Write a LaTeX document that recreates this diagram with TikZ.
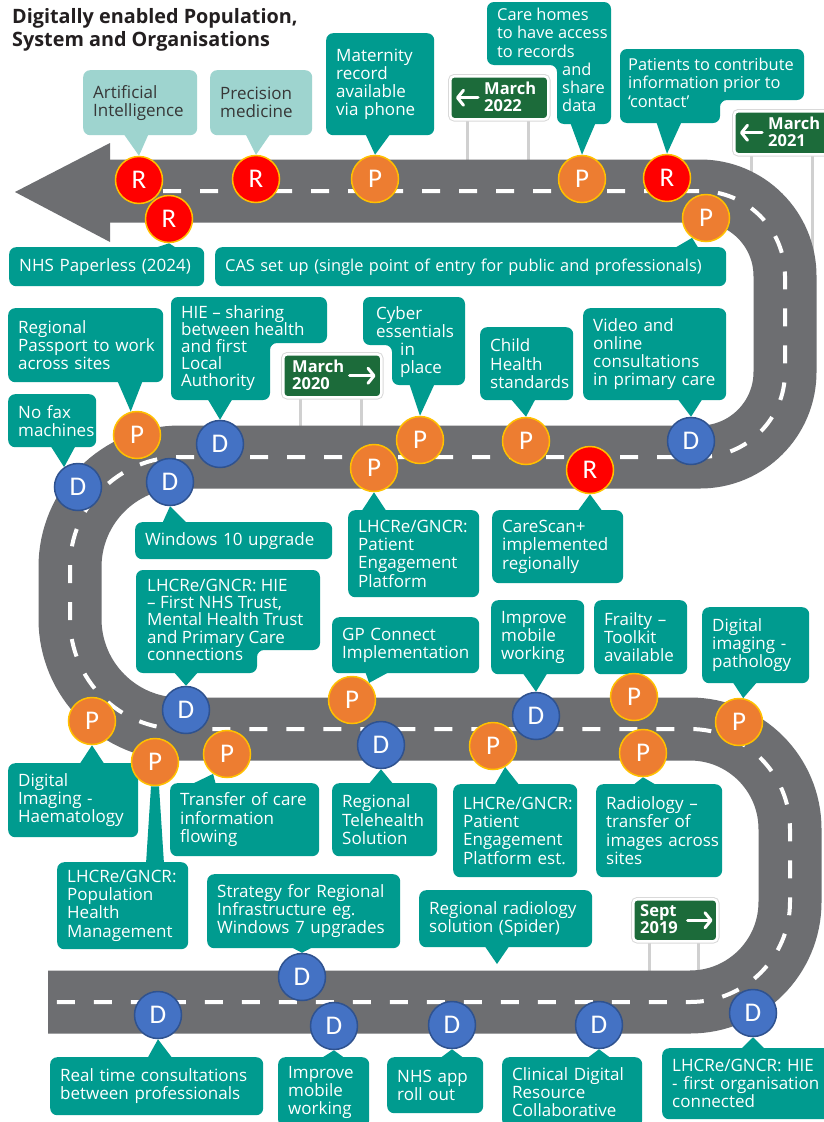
\documentclass[tikz,border=0pt]{standalone}
\usepackage{fontspec}
\setmainfont{Open Sans}
\newfontfamily\badgefont{Carlito}
\usetikzlibrary{arrows.meta}

\definecolor{calloutteal}{RGB}{0,155,143}
\definecolor{calloutpale}{RGB}{158,212,207}
\definecolor{paletext}{RGB}{55,55,55}
\definecolor{roadgrey}{RGB}{109,110,113}
\definecolor{signgreen}{RGB}{28,107,58}
\definecolor{postgrey}{RGB}{208,208,208}
\definecolor{rfill}{RGB}{255,0,0}
\definecolor{pfill}{RGB}{237,125,49}
\definecolor{dfill}{RGB}{68,114,196}
\definecolor{ringgold}{RGB}{255,192,0}
\definecolor{dring}{RGB}{47,82,143}
\definecolor{titleink}{RGB}{35,31,32}

\pgfdeclarelayer{roadlayer}
\pgfdeclarelayer{tiplayer}
\pgfsetlayers{roadlayer,tiplayer,main}

\newcommand\labelsize{\fontsize{17}{18.2}\selectfont}
\newcommand\tightsize{\fontsize{17}{17.2}\selectfont}
\newcommand\snugsize{\fontsize{16.4}{18.2}\selectfont}

\tikzset{
  callbox/.style={rectangle, rounded corners=7pt, fill=calloutteal, text=white,
    font=\labelsize, align=left, anchor=north west, inner xsep=10pt, inner ysep=2pt},
  palebox/.style={callbox, fill=calloutpale, text=paletext},
  callshape/.style={fill=calloutteal, rounded corners=7pt},
  calltext/.style={anchor=north west, inner sep=0pt, align=left, text=white, font=\labelsize},
  badge/.style={circle, minimum size=47pt, inner sep=0pt, line width=1.5pt, text=white,
    font=\badgefont\fontsize{27}{27}\selectfont},
  rbadge/.style={badge, fill=rfill, draw=ringgold},
  pbadge/.style={badge, fill=pfill, draw=ringgold},
  dbadge/.style={badge, fill=dfill, draw=dring},
  signplate/.style={rectangle, rounded corners=4pt, fill=signgreen, draw=white, line width=2.5pt,
    preaction={draw=black!15, line width=4.5pt}, anchor=north west, inner sep=0pt},
  signtext/.style={anchor=west, inner sep=0pt, align=left, text=white,
    font=\bfseries\fontsize{16.5}{16.5}\selectfont},
  signarrow/.style={draw=white, line width=3pt, line cap=round,
    -{Straight Barb[length=6pt,width=15pt,round]}},
  signpost/.style={draw=postgrey, line width=3pt},
  roadbase/.style={draw=roadgrey, line width=63pt},
  centreline/.style={draw=white, line width=4pt, dash pattern=on 18pt off 19pt, dash phase=21pt},
}

% rectangular callout: name, x1, y1, x2, y2, text
\newcommand\calloutbox[7][]{%
  \pgfmathsetmacro\cbw{#5-#3}%
  \pgfmathsetmacro\cbh{#6-#4}%
  \pgfmathsetmacro\cbt{#5-#3-20}%
  \node[callbox,minimum width=\cbw pt,minimum height=\cbh pt,text width=\cbt pt,#1] (#2) at (#3,#4) {#7};}

% callout pointer: tip, base centre x, base y
\newcommand\calltip[4][calloutteal]{\fill[#1] ({#3-13},#4) -- (#2) -- ({#3+13},#4) -- cycle;}

\begin{document}
\begin{tikzpicture}[x=1pt,y=-1pt]
\useasboundingbox (0,0) rectangle (824,1122);

\begin{pgfonlayer}{roadlayer}
  \fill[white] (0,0) rectangle (824,1122);
  % sign posts
  \draw[signpost] (467,100) -- (467,175);
  \draw[signpost] (528,100) -- (528,175);
  \draw[signpost] (751,140) -- (751,200);
  \draw[signpost] (812,140) -- (812,300);
  \draw[signpost] (300,380) -- (300,440);
  \draw[signpost] (361,380) -- (361,440);
  \draw[signpost] (649,925) -- (649,985);
  \draw[signpost] (698,925) -- (698,985);
  % the winding road with its centre line
  \draw[roadbase, postaction={centreline}] (110,191) -- (700,191)
    arc[start angle=90,end angle=0,radius=85pt] -- (785,372)
    arc[start angle=0,end angle=-90,radius=85pt] -- (180,457)
    arc[start angle=90,end angle=180,radius=110pt] -- (70,619)
    arc[start angle=180,end angle=270,radius=110pt] -- (690,729)
    arc[start angle=90,end angle=0,radius=100pt] -- (790,902)
    arc[start angle=0,end angle=-90,radius=100pt] -- (48,1002);
  \fill[roadgrey] (110,143) -- (15,192) -- (110,242) -- cycle;
  % road signs
  \node[signplate, minimum width=98pt, minimum height=43pt] (s22) at (449,75) {};
  \node[signtext] (t22) at (484,97) {March\\2022};
  \draw[signarrow] ([xshift=29pt]s22.west) -- ([xshift=7pt]s22.west);
  \node[signplate, minimum width=95pt, minimum height=43pt] (s21) at (733,110) {};
  \node[signtext] (t21) at (768,132) {March\\2021};
  \draw[signarrow] ([xshift=29pt]s21.west) -- ([xshift=7pt]s21.west);
  \node[signplate, minimum width=98pt, minimum height=43pt] (s20) at (282,353) {};
  \node[signtext] (t20) at (292,375) {March\\2020};
  \draw[signarrow] ([xshift=-33pt]s20.east) -- ([xshift=-7pt]s20.east);
  \node[signplate, minimum width=84pt, minimum height=42pt] (s19) at (632,898) {};
  \node[signtext] (t19) at (640,919) {Sept\\2019};
  \draw[signarrow] ([xshift=-31pt]s19.east) -- ([xshift=-6pt]s19.east);
\end{pgfonlayer}

% title
\node[anchor=north west, inner sep=0pt, align=left, text=titleink,
  font=\bfseries\fontsize{19.8}{23.5}\selectfont] (title) at (12,8)
  {Digitally enabled Population,\\System and Organisations};

% callouts along the top stretch
\calloutbox[palebox]{bAI}{83}{70}{197}{135}{Artificial\\Intelligence}
\calloutbox[palebox]{bPrec}{210}{70}{312}{135}{Precision\\medicine}
\calloutbox{bMat}{326}{33}{434}{135}{Maternity\\record\\available\\via~phone}
\fill[callshape] (487,2) -- (611,2) -- (611,124) -- (557,124) -- (557,65) -- (487,65) -- cycle;
\node[calltext, font=\snugsize] (tCare) at (497,8) {Care homes\\to have access\\to records\\\hspace*{65pt}and\\\hspace*{65pt}share\\\hspace*{65pt}data};
\fill[callshape] (620,49) -- (804,49) -- (804,100) -- (720,100) -- (720,123) -- (620,123) -- cycle;
\node[calltext, font=\snugsize] (tPat) at (628,58) {Patients to contribute\\information prior to\\‘contact’};
\calloutbox{bPaper}{9}{247}{204}{286}{NHS~Paperless~(2024)}
\calloutbox[font=\fontsize{16.4}{18}\selectfont]{bCAS}{215}{247}{726}{286}{CAS~set~up~(single~point~of~entry~for~public~and~professionals)}

% callouts around the second stretch
\calloutbox{bPass}{8}{308}{163}{382}{Regional\\Passport~to~work\\across~sites}
\calloutbox{bFax}{8}{394}{96}{447}{No~fax\\machines}
\fill[callshape] (171,297) -- (327,297) -- (327,343) -- (270,343) -- (270,400) -- (171,400) -- cycle;
\node[calltext, font=\tightsize] (tHIE) at (181,305) {HIE – sharing\\between health\\and first\\Local\\Authority};
\fill[callshape] (363,297) -- (465,297) -- (465,385) -- (392,385) -- (392,345) -- (363,345) -- cycle;
\node[calltext] (tCyber) at (376,306) {Cyber\\essentials\\\hspace*{24pt}in\\\hspace*{24pt}place};
\calloutbox{bChild}{480}{327}{573}{400}{Child\\Health\\standards}
\calloutbox{bVideo}{583}{308}{726}{400}{Video~and\\online\\consultations\\in~primary~care}
\calloutbox{bWin}{135}{522}{332}{559}{Windows~10~upgrade}
\calloutbox{bPEP}{348}{510}{479}{597}{LHCRe/GNCR:\\Patient\\Engagement\\Platform}
\calloutbox{bScan}{492}{510}{623}{583}{CareScan+\\implemented\\regionally}

% callouts around the third stretch
\fill[callshape] (136,570) -- (320,570) -- (320,650) -- (257,650) -- (257,673) -- (136,673) -- cycle;
\node[calltext, font=\tightsize] (tTrust) at (147,579) {LHCRe/GNCR: HIE\\– First NHS Trust,\\Mental Health Trust\\and Primary Care\\connections};
\calloutbox{bGP}{332}{617}{479}{673}{GP~Connect\\Implementation}
\calloutbox{bMobile}{491}{600}{584}{674}{Improve\\mobile\\working}
\calloutbox{bFrail}{594}{600}{687}{674}{Frailty~–\\Toolkit\\available}
\calloutbox{bPath}{702}{607}{809}{683}{Digital\\imaging~-\\pathology}
\calloutbox{bHaem}{8}{763}{138}{837}{Digital\\Imaging~-\\Haematology}
\calloutbox{bPop}{57}{862}{188}{949}{LHCRe/GNCR:\\Population\\Health\\Management}
\calloutbox{bTransfer}{170}{783}{319}{856}{Transfer~of~care\\information\\flowing}
\calloutbox{bTele}{332}{783}{437}{856}{Regional\\Telehealth\\Solution}
\calloutbox{bPEPest}{453}{784}{577}{877}{LHCRe/GNCR:\\Patient\\Engagement\\Platform~est.}
\calloutbox{bRadio}{596}{784}{722}{877}{Radiology~–\\transfer~of\\images~across\\sites}

% callouts around the last stretch
\calloutbox{bStrat}{207}{874}{400}{948}{Strategy~for~Regional\\Infrastructure~eg.\\Windows~7~upgrades}
\calloutbox{bSpider}{419}{890}{592}{947}{Regional~radiology\\solution~(Spider)}
\calloutbox{bReal}{50}{1057}{263}{1115}{Real~time~consultations\\between~professionals}
\calloutbox{bMobile2}{278}{1057}{369}{1127}{Improve\\mobile\\working}
\calloutbox{bApp}{387}{1057}{483}{1113}{NHS~app\\roll~out}
\calloutbox{bCDRC}{502}{1057}{642}{1127}{Clinical~Digital\\Resource\\Collaborative}
\calloutbox{bFirst}{662}{1048}{840}{1119}{LHCRe/GNCR:~HIE\\-~first~organisation\\connected}

% milestone badges
\node[rbadge] (rAI) at (139,180) {R};
\node[rbadge] (rPaper) at (169,219) {R};
\node[rbadge] (rPrec) at (256,179) {R};
\node[pbadge] (pMat) at (375,179) {P};
\node[pbadge] (pCare) at (582,179) {P};
\node[rbadge] (rPat) at (667,178) {R};
\node[pbadge] (pCAS) at (706,218) {P};

\node[dbadge] (dFax) at (78,487) {D};
\node[pbadge] (pPass) at (137,435) {P};
\node[dbadge] (dWin) at (170,482) {D};
\node[dbadge] (dHIE) at (220,444) {D};
\node[pbadge] (pPEP) at (374,468) {P};
\node[pbadge] (pCyber) at (420,440) {P};
\node[pbadge] (pChild) at (526,441) {P};
\node[rbadge] (rScan) at (590,470) {R};
\node[dbadge] (dVideo) at (691,441) {D};

\node[pbadge] (pHaem) at (92,721) {P};
\node[pbadge] (pPop) at (155,762) {P};
\node[dbadge] (dTrust) at (186,710) {D};
\node[pbadge] (pTransfer) at (227,754) {P};
\node[pbadge] (pGP) at (352,700) {P};
\node[dbadge] (dTele) at (381,745) {D};
\node[pbadge] (pPEPest) at (493,746) {P};
\node[dbadge] (dMobile) at (536,716) {D};
\node[pbadge] (pFrail) at (634,697) {P};
\node[pbadge] (pRadio) at (643,753) {P};
\node[pbadge] (pPath) at (739,722) {P};

\node[dbadge] (dStrat) at (302,977) {D};
\node[dbadge] (dReal) at (158,1015) {D};
\node[dbadge] (dMobile2) at (334,1026) {D};
\node[dbadge] (dApp) at (452,1025) {D};
\node[dbadge] (dCDRC) at (599,1025) {D};
\node[dbadge] (dFirst) at (753,1013) {D};

\coordinate (spiderTip) at (497,964);

% callout pointers
\begin{pgfonlayer}{tiplayer}
  \calltip[calloutpale]{rAI.north}{136}{133}
  \calltip[calloutpale]{rPrec.north}{258}{133}
  \calltip{pMat.north}{378}{133}
  \calltip{pCare.north}{583}{122}
  \calltip{rPat.north}{669}{121}
  \calltip{rPaper.south}{165}{249}
  \calltip{pCAS.235}{686}{249}
  \calltip{pPass.105}{130}{380}
  \calltip{dFax.125}{63}{445}
  \calltip{dHIE.north}{220}{398}
  \calltip{pCyber.north}{422}{383}
  \calltip{pChild.north}{523}{398}
  \calltip{dVideo.north}{690}{398}
  \calltip{dWin.south}{175}{524}
  \calltip{pPEP.south}{374}{512}
  \calltip{rScan.south}{590}{512}
  \calltip{dTrust.north}{186}{671}
  \calltip{pGP.45}{378}{671}
  \calltip{dMobile.north}{535}{672}
  \calltip{pFrail.north}{634}{672}
  \calltip{pPath.80}{745}{681}
  \calltip{pHaem.south}{92}{765}
  \calltip{pTransfer.235}{203}{785}
  \calltip{dTele.south}{381}{785}
  \calltip{pPEPest.300}{507}{786}
  \calltip{pRadio.south}{645}{786}
  \calltip{dStrat.north}{302}{946}
  \calltip{spiderTip}{497}{945}
  \calltip{dReal.south}{160}{1059}
  \calltip{dMobile2.south}{333}{1059}
  \calltip{dApp.south}{452}{1059}
  \calltip{dCDRC.south}{599}{1059}
  \calltip{dFirst.south}{753}{1050}
  \fill[calloutteal] (146,864) -- ([xshift=-4pt]pPop.south) -- ([xshift=4pt]pPop.south) -- (164,864) -- cycle;
\end{pgfonlayer}
\end{tikzpicture}
\end{document}
